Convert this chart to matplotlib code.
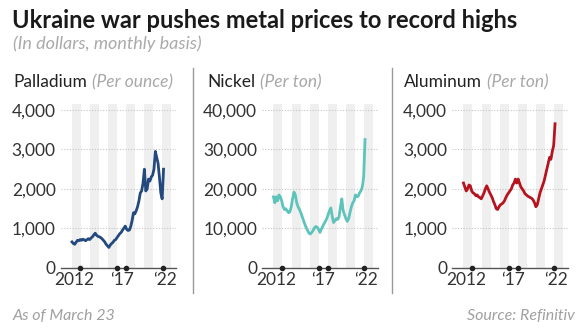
import matplotlib.pyplot as plt
import pandas as pd

plt.rcParams['font.family'] = ['Lato', 'DejaVu Sans']

# bimonthly observations, Jan 2011 .. Mar 2022
dates = pd.date_range('2011-01-01', '2022-03-01', freq='2MS')
years = dates.year + (dates.month - 1) / 12

palladium = [660, 620, 600, 650, 700, 690, 720, 700, 730, 710, 690, 720,
             740, 720, 760, 790, 840, 880, 830, 800, 790, 770, 740, 700,
             660, 600, 560, 520, 580, 620, 650, 700, 720, 770, 820, 870,
             900, 960, 1010, 1060, 980, 950, 960, 1050, 1200, 1400, 1370, 1450,
             1550, 1700, 1900, 1950, 2150, 2500, 1950, 2000, 2250, 2200, 2300, 2350,
             2500, 2950, 2800, 2650, 2300, 1900, 1750, 2500]

nickel = [18000, 16500, 18000, 17000, 18500, 18000, 17000, 15500, 14800, 15000,
          14500, 14000, 14200, 15500, 17500, 19200, 18500, 16500, 15500, 14800,
          14000, 13000, 12000, 11000, 10200, 9500, 8800, 8600, 9000, 9500,
          10200, 10500, 10300, 9800, 9000, 9800, 10500, 11200, 11800, 12500,
          13500, 14500, 15200, 13000, 11500, 12000, 12500, 12300, 13000, 15500,
          17500, 14500, 13500, 12500, 11800, 12500, 14000, 15500, 16500, 17000,
          18500, 18000, 18200, 19000, 19500, 20500, 23000, 32500]

aluminum = [2150, 2050, 1950, 2000, 2100, 2080, 1950, 1900, 1880, 1830, 1850, 1800,
            1780, 1750, 1820, 1900, 2000, 2080, 2000, 1920, 1850, 1780, 1680, 1600,
            1500, 1480, 1550, 1600, 1620, 1650, 1700, 1780, 1850, 1900, 1950, 2000,
            2100, 2150, 2250, 2150, 2250, 2150, 2050, 2000, 1950, 1880, 1850, 1820,
            1800, 1780, 1760, 1720, 1650, 1550, 1600, 1750, 1900, 2000, 2100, 2200,
            2350, 2500, 2650, 2800, 2750, 2950, 3100, 3650]

# alternating background bands (years)
band_starts = [2011.0, 2013.2, 2015.4, 2017.6, 2019.8, 2022.0]
band_width = 1.1

tick_dots = [2012, 2016.5, 2017.6, 2022.1]
label_years = [2011.3, 2017.1, 2022.3]
label_text = ['2012', '\u201817', '\u201822']

panels = [
    ('Palladium', '(Per ounce)', palladium, '#23497e', [0, 1000, 2000, 3000, 4000], 4150),
    ('Nickel', '(Per ton)', nickel, '#5ec4bb', [0, 10000, 20000, 30000, 40000], 41500),
    ('Aluminum', '(Per ton)', aluminum, '#b5141f', [0, 1000, 2000, 3000, 4000], 4150),
]
lefts = [60.5, 262, 452]
head_x = [13, 207, 404]

W, H = 588, 333
fig = plt.figure(figsize=(W / 100, H / 100), dpi=100)
fig.patch.set_facecolor('white')
renderer = fig.canvas.get_renderer()

for (name, unit, vals, col, yt, ytop), left, hx in zip(panels, lefts, head_x):
    ax = fig.add_axes([left / W, (H - 268) / H, 115.6 / W, 164 / H])
    for b in band_starts:
        ax.axvspan(b, b + band_width, color='#efefef', lw=0, zorder=0)
    for v in yt[1:]:
        ax.axhline(v, color='#c4c4c4', lw=0.8, ls=(0, (1, 1.5)), zorder=1)
    ax.plot(years, vals, color=col, lw=2, zorder=3, solid_joinstyle='round')
    ax.set_xlim(2009.6, 2023.7)
    ax.set_ylim(0, ytop)
    for s in ['top', 'right', 'left']:
        ax.spines[s].set_visible(False)
    ax.spines['bottom'].set_color('#555555')
    ax.spines['bottom'].set_linewidth(1)
    ax.set_yticks(yt)
    ax.set_yticklabels([f'{v:,}' for v in yt])
    ax.tick_params(axis='y', length=0, pad=3.5, labelsize=12.5, labelcolor='#333333')
    ax.set_xticks(label_years)
    ax.set_xticklabels(label_text)
    ax.tick_params(axis='x', length=0, pad=3, labelsize=12.5, labelcolor='#333333')
    ax.plot(tick_dots, [0] * len(tick_dots), 'o', ms=3, color='#222222',
            clip_on=False, zorder=5)

    # panel heading
    t1 = fig.text(hx / W, 1 - 82 / H, name, fontsize=12.5, color='#222222',
                  va='center', ha='left')
    bb = t1.get_window_extent(renderer=renderer)
    fig.text((bb.x1 + 5) / W, 1 - 82 / H, unit, fontsize=12.5, color='#a8a8a8',
             style='italic', va='center', ha='left')

# separators
for x in [193, 392]:
    fig.add_artist(plt.Line2D([x / W, x / W], [1 - 68 / H, 1 - 293 / H],
                              color='#9a9a9a', lw=1))

fig.text(12 / W, 1 - 20 / H, 'Ukraine war pushes metal prices to record highs',
         fontsize=17, fontweight='bold', color='#1a1a1a', va='center', ha='left')
fig.text(13 / W, 1 - 44 / H, '(In dollars, monthly basis)', fontsize=13,
         style='italic', color='#aaaaaa', va='center', ha='left')
fig.text(13 / W, 1 - 316 / H, 'As of March 23', fontsize=11.5, style='italic',
         color='#a0a0a0', va='center', ha='left')
fig.text(575 / W, 1 - 316 / H, 'Source: Refinitiv', fontsize=11.5, style='italic',
         color='#a0a0a0', va='center', ha='right')

fig.savefig('out.png', dpi=100, facecolor='white')
